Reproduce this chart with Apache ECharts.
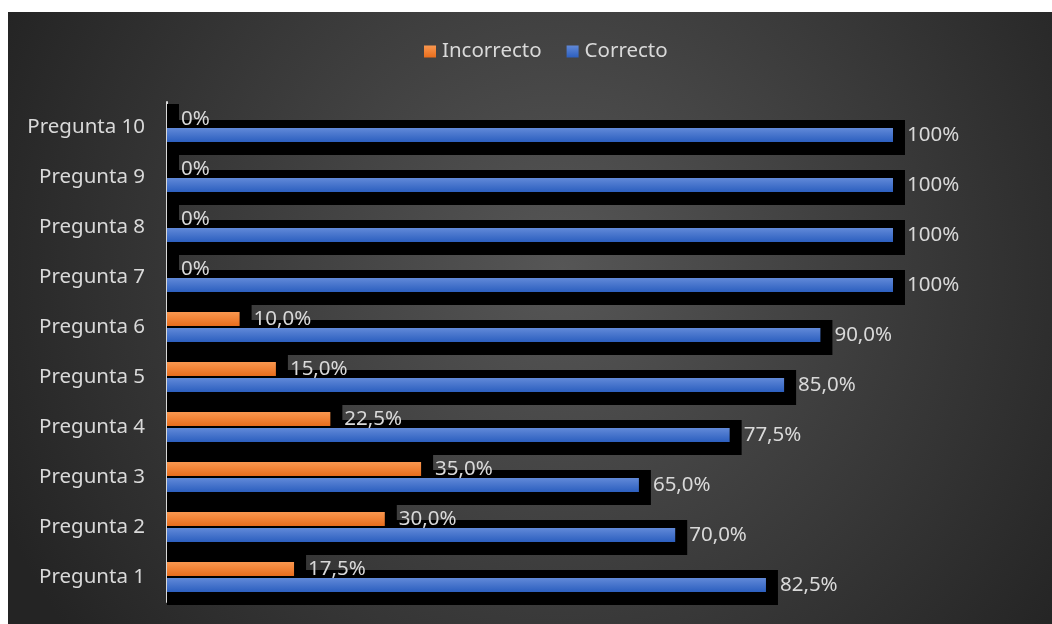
<!DOCTYPE html>
<html>
<head>
<meta charset="utf-8">
<script src="https://cdn.jsdelivr.net/npm/echarts@6/dist/echarts.min.js"></script>
<style>
  html, body { margin: 0; padding: 0; background: #fff; }
  #chart { width: 1052px; height: 624px; }
</style>
</head>
<body>
<div id="chart"></div>
<script>
let chart = echarts.init(document.getElementById('chart'));

// categorias y valores
let categories = ['Pregunta 1', 'Pregunta 2', 'Pregunta 3', 'Pregunta 4', 'Pregunta 5',
    'Pregunta 6', 'Pregunta 7', 'Pregunta 8', 'Pregunta 9', 'Pregunta 10'];
let incorrecto = [17.5, 30, 35, 22.5, 15, 10, 0, 0, 0, 0];
let correcto = [82.5, 70, 65, 77.5, 85, 90, 100, 100, 100, 100];

let font = 'Noto Sans';
let textColor = '#d9d9d9';
let fontSize = 20.5;

function fmt(v) {
    if (v === 0 || v === 100) return v + '%';
    return v.toFixed(1).replace('.', ',') + '%';
}

// sombra negra detras de cada barra
function shadowItem(offset) {
    return function (params, api) {
        let idx = api.value(0);
        let end = api.coord([api.value(1), idx]);
        let start = api.coord([0, idx]);
        return {
            type: 'rect',
            shape: {
                x: start[0],
                y: end[1] + offset - 8,
                width: end[0] - start[0] + 12,
                height: 35
            },
            style: {fill: '#000'}
        };
    };
}

let option = {
    backgroundColor: '#fff',
    animation: false,
    textStyle: {fontFamily: font},
    graphic: [{
        type: 'rect',
        z: -10,
        shape: {x: 8, y: 12, width: 1044, height: 612},
        style: {
            fill: {
                type: 'radial', x: 0.53, y: 0.42, r: 1.0,
                colorStops: [{offset: 0, color: '#565656'}, {offset: 1, color: '#242424'}]
            }
        }
    }],
    legend: {
        data: ['Incorrecto', 'Correcto'],
        top: 36,
        left: 419,
        icon: 'rect',
        itemWidth: 12,
        itemHeight: 12,
        itemGap: 25,
        textStyle: {color: textColor, fontSize: fontSize, fontFamily: font, padding: [0, 0, 0, 1]}
    },
    grid: {left: 167, right: 159, top: 102, bottom: 22},
    xAxis: {
        type: 'value',
        min: 0,
        max: 100,
        show: false
    },
    yAxis: {
        type: 'category',
        data: categories,
        axisLine: {lineStyle: {color: textColor, width: 2}},
        axisTick: {show: false},
        axisLabel: {color: textColor, fontSize: fontSize, margin: 22, fontFamily: font}
    },
    series: [
        {
            type: 'custom',
            name: 'sombraInc',
            z: 1,
            silent: true,
            renderItem: shadowItem(-15),
            data: incorrecto.map((v, i) => [i, v])
        },
        {
            type: 'custom',
            name: 'sombraCor',
            z: 1,
            silent: true,
            renderItem: shadowItem(1),
            data: correcto.map((v, i) => [i, v])
        },
        {
            name: 'Incorrecto',
            type: 'bar',
            z: 3,
            barWidth: 14,
            barGap: '14%',
            data: incorrecto,
            itemStyle: {
                color: new echarts.graphic.LinearGradient(0, 0, 0, 1, [
                    {offset: 0, color: '#f9974f'}, {offset: 1, color: '#e96d1c'}
                ])
            },
            label: {
                show: true, position: 'right', distance: 14,
                color: textColor, fontSize: fontSize, fontFamily: font,
                formatter: p => fmt(p.value)
            }
        },
        {
            name: 'Correcto',
            type: 'bar',
            z: 3,
            barWidth: 14,
            barGap: '14%',
            data: correcto,
            itemStyle: {
                color: new echarts.graphic.LinearGradient(0, 0, 0, 1, [
                    {offset: 0, color: '#6189d8'}, {offset: 1, color: '#2c5fbf'}
                ])
            },
            label: {
                show: true, position: 'right', distance: 14,
                color: textColor, fontSize: fontSize, fontFamily: font,
                formatter: p => fmt(p.value)
            }
        }
    ]
};

chart.setOption(option);
</script>
</body>
</html>
